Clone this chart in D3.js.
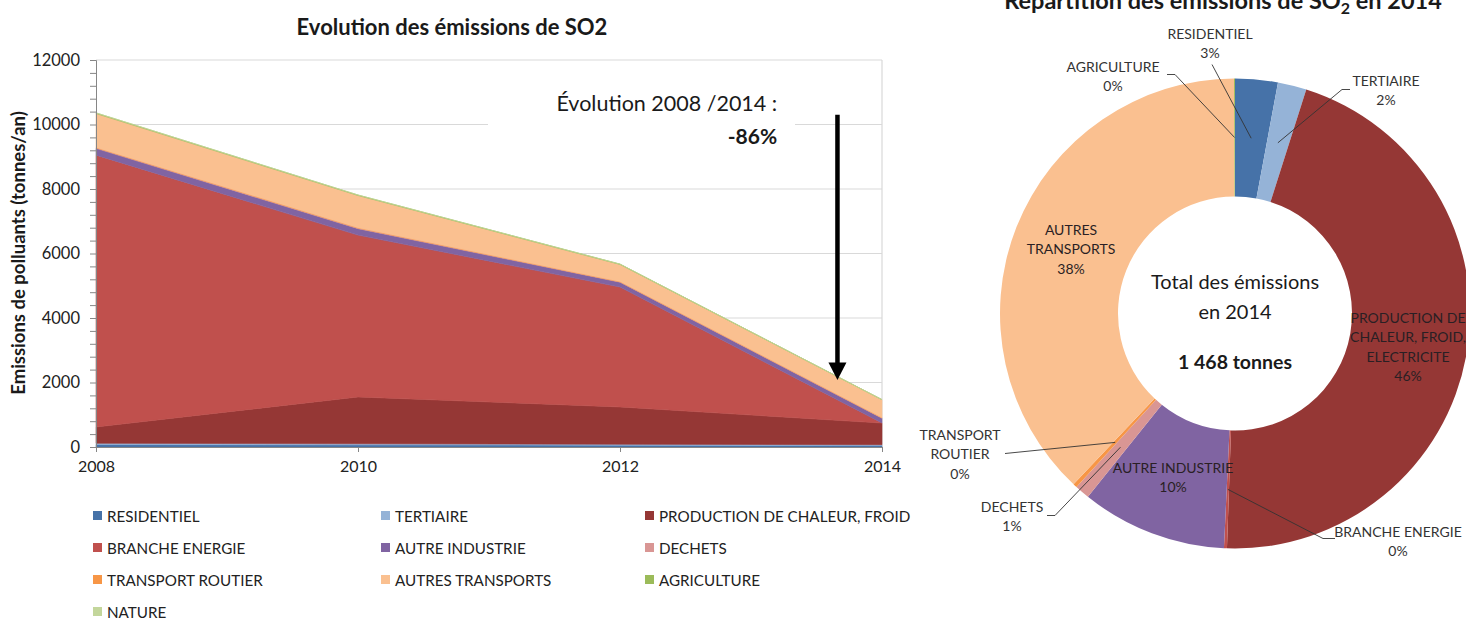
<!DOCTYPE html>
<html>
<head>
<meta charset="utf-8">
<script src="https://cdn.jsdelivr.net/npm/d3@7"></script>
<style>
body{
  margin:0;
  padding:0;
  overflow:hidden;
  background:#fff;
  font-family: Lato, 'Noto Sans', sans-serif;
}
</style>
</head>
<body>
<div id="chart"></div>
<script>
//========== DATA =============
const years = [2008, 2010, 2012, 2014];
const sectors = ["RESIDENTIEL", "TERTIAIRE", "PRODUCTION DE CHALEUR, FROID, ELECTRICITE",
  "BRANCHE ENERGIE", "AUTRE INDUSTRIE", "DECHETS", "TRANSPORT ROUTIER",
  "AUTRES TRANSPORTS", "AGRICULTURE", "NATURE"];

// tonnes/an, one array per sector, same order as years
const residentiel      = [75, 65, 55, 43];
const tertiaire        = [40, 35, 30, 29];
const production       = [505, 1450, 1155, 670];
const brancheEnergie   = [8430, 5020, 3720, 3];
const autreIndustrie   = [210, 200, 150, 147];
const dechets          = [20, 20, 15, 15];
const transportRoutier = [10, 8, 6, 4];
const autresTransports = [1050, 1000, 530, 556];
const agriculture      = [20, 15, 10, 1];
const nature           = [0, 0, 0, 0];

const series = [residentiel, tertiaire, production, brancheEnergie, autreIndustrie,
  dechets, transportRoutier, autresTransports, agriculture, nature];

const colors = ["#4672A8", "#95B3D7", "#953735", "#C0504D", "#8064A2",
  "#D99694", "#F79646", "#FAC090", "#9BBB59", "#C3D69B"];

const yTicks = [0, 2000, 4000, 6000, 8000, 10000, 12000];

//========== SVG =============
const W = 1466, H = 619;
const svg = d3.select("#chart").append("svg")
  .attr("width", W).attr("height", H)
  .style("font-family", "Lato, 'Noto Sans', sans-serif");
svg.append("rect").attr("width", W).attr("height", H).attr("fill", "#fff");

//========== AREA CHART =============
const x = d3.scaleLinear().domain([2008, 2014]).range([96, 882]);
const y = d3.scaleLinear().domain([0, 12000]).range([447, 60]);

const rows = years.map((yr, i) => {
  const r = {year: yr};
  sectors.forEach((s, k) => r[s] = series[k][i]);
  return r;
});
const stacked = d3.stack().keys(sectors)(rows);

svg.append("text")
  .attr("x", 452).attr("y", 35)
  .attr("text-anchor", "middle")
  .attr("font-weight", "bold").attr("font-size", 22).attr("fill", "#1a1a1a")
  .text("Evolution des émissions de SO2");

// gridlines
svg.append("g").selectAll("line")
  .data(yTicks.filter(d => d > 0))
  .join("line")
  .attr("x1", x(2008)).attr("x2", x(2014))
  .attr("y1", d => y(d)).attr("y2", d => y(d))
  .attr("stroke", "#D9D9D9").attr("stroke-width", 1.2);
svg.append("line")
  .attr("x1", x(2014)).attr("x2", x(2014))
  .attr("y1", y(12000)).attr("y2", y(0))
  .attr("stroke", "#D9D9D9").attr("stroke-width", 1.2);

const area = d3.area()
  .x(d => x(d.data.year))
  .y0(d => y(d[0]))
  .y1(d => y(d[1]));

svg.append("g").selectAll("path")
  .data(stacked)
  .join("path")
  .attr("d", area)
  .attr("fill", (d, i) => colors[i])
  .attr("stroke", (d, i) => colors[i])
  .attr("stroke-width", 0.6);

// axes
const yMinor = svg.append("g").attr("transform", `translate(${x(2008)},0)`)
  .call(d3.axisLeft(y).tickValues(d3.range(0, 12001, 400)).tickSize(6).tickFormat(""));
const yMajor = svg.append("g").attr("transform", `translate(${x(2008)},0)`)
  .call(d3.axisLeft(y).tickValues(yTicks).tickSize(0).tickPadding(16).tickFormat(d3.format("d")));
yMajor.select(".domain").remove();
yMajor.selectAll("text").attr("font-size", 16.5).attr("fill", "#222").attr("font-family", "Lato, sans-serif");

const xAxis = svg.append("g").attr("transform", `translate(0,${y(0)})`)
  .call(d3.axisBottom(x).tickValues(years).tickSize(5).tickPadding(9).tickFormat(d3.format("d")));
xAxis.selectAll("text").attr("font-size", 16).attr("fill", "#222").attr("font-family", "Lato, sans-serif");
[yMinor, xAxis].forEach(g => {
  g.select(".domain").attr("stroke", "#868686");
  g.selectAll(".tick line").attr("stroke", "#868686");
});

svg.append("text")
  .attr("transform", "translate(25,253) rotate(-90)")
  .attr("text-anchor", "middle")
  .attr("font-weight", "bold").attr("font-size", 18.5).attr("fill", "#1a1a1a")
  .text("Emissions de polluants (tonnes/an)");

// annotation
const total = i => d3.sum(series, s => s[i]);
const evo = (total(years.length - 1) - total(0)) / total(0);
svg.append("rect")
  .attr("x", 488).attr("y", 88).attr("width", 307).attr("height", 70)
  .attr("fill", "#fff");
svg.append("text")
  .attr("x", x(2013.2)).attr("y", y(10640) + 7.5)
  .attr("text-anchor", "end").attr("font-size", 21.5).attr("fill", "#1a1a1a")
  .text(`Évolution ${years[0]} /${years[years.length - 1]} :`);
svg.append("text")
  .attr("x", x(2013.2)).attr("y", y(9620) + 7.5)
  .attr("text-anchor", "end").attr("font-size", 21).attr("font-weight", "bold").attr("fill", "#1a1a1a")
  .text(d3.format(".0%")(evo).replace("−", "-"));

const ax = x(2013.66);
svg.append("line")
  .attr("x1", ax).attr("x2", ax)
  .attr("y1", y(10300)).attr("y2", y(2600))
  .attr("stroke", "#000").attr("stroke-width", 4.5);
svg.append("path")
  .attr("d", `M${ax - 9},${y(2620)} L${ax + 9},${y(2620)} L${ax},${y(2080)} Z`)
  .attr("fill", "#000");

// legend
const legCols = [93, 381, 645], legRows = [516, 548, 580, 612];
const leg = svg.append("g").selectAll("g")
  .data(sectors)
  .join("g")
  .attr("transform", (d, i) => `translate(${legCols[i % 3]},${legRows[Math.floor(i / 3)]})`);
leg.append("rect")
  .attr("x", 0).attr("y", -5).attr("width", 9).attr("height", 9)
  .attr("fill", (d, i) => colors[i]);
leg.append("text")
  .attr("x", 14).attr("y", 5.5)
  .attr("font-size", 15.2).attr("fill", "#222")
  .text(d => d)
  .each(function () {   // excel cuts the long entry at the chart edge
    const t = d3.select(this);
    const maxW = 918 - 645 - 14;
    let words = t.text().split(" ");
    while (this.getComputedTextLength() > maxW && words.length > 1) {
      words.pop();
      t.text(words.join(" ").replace(/,$/, ""));
    }
  });

//========== DONUT =============
const cx = 1235, cy = 313.5, rOut = 235, rIn = 117;
const values2014 = series.map(s => s[s.length - 1]);
const total2014 = d3.sum(values2014);
const pie = d3.pie().sort(null).value(d => d.v);
const arcs = pie(sectors.map((s, i) => ({name: s, v: values2014[i], c: colors[i]})));
const arc = d3.arc().innerRadius(rIn).outerRadius(rOut);

svg.append("text")
  .attr("x", 1223).attr("y", 9)
  .attr("text-anchor", "middle")
  .attr("font-weight", "bold").attr("font-size", 23.5).attr("fill", "#1a1a1a")
  .call(t => {
    t.append("tspan").text("Répartition des émissions de SO");
    t.append("tspan").attr("font-size", 16).attr("dy", 5).text("2");
    t.append("tspan").attr("dy", -5).text(" en 2014");
  });

const donut = svg.append("g").attr("transform", `translate(${cx},${cy})`);
donut.selectAll("path")
  .data(arcs)
  .join("path")
  .attr("d", arc)
  .attr("fill", d => d.data.c);

// center text
const fmtT = n => d3.format(",")(n).replace(/,/g, " ");
donut.append("text").attr("y", -25).attr("text-anchor", "middle").attr("font-size", 20).attr("fill", "#1a1a1a").text("Total des émissions");
donut.append("text").attr("y", 5.5).attr("text-anchor", "middle").attr("font-size", 20).attr("fill", "#1a1a1a").text(`en ${years[years.length - 1]}`);
donut.append("text").attr("y", 55.5).attr("text-anchor", "middle").attr("font-size", 19.5).attr("font-weight", "bold").attr("fill", "#1a1a1a").text(`${fmtT(total2014)} tonnes`);

// labels: position of first line centre (relative to donut centre) and leader start
const pieLabels = {
  "RESIDENTIEL": {x: -25, y: -280, lines: ["RESIDENTIEL"], leader: [[-23, -249]]},
  "TERTIAIRE": {x: 151, y: -233, lines: ["TERTIAIRE"], leader: [[115, -224], [107, -224]]},
  "PRODUCTION DE CHALEUR, FROID, ELECTRICITE": {x: 173, y: 4, inside: true, lines: ["PRODUCTION DE", "CHALEUR, FROID,", "ELECTRICITE"]},
  "BRANCHE ENERGIE": {x: 163, y: 218, lines: ["BRANCHE ENERGIE"], leader: [[100, 225], [88, 225]]},
  "AUTRE INDUSTRIE": {x: -62, y: 154, inside: true, lines: ["AUTRE INDUSTRIE"]},
  "DECHETS": {x: -223, y: 193, lines: ["DECHETS"], leader: [[-188, 202], [-180, 202]]},
  "TRANSPORT ROUTIER": {x: -275, y: 121, lines: ["TRANSPORT", "ROUTIER"], leader: [[-230, 140]]},
  "AUTRES TRANSPORTS": {x: -164, y: -84, inside: true, lines: ["AUTRES", "TRANSPORTS"]},
  "AGRICULTURE": {x: -122, y: -247, lines: ["AGRICULTURE"], leader: [[-68, -239], [-60, -239]]}
};

const labelled = arcs.filter(d => pieLabels[d.data.name]);
donut.append("g").selectAll("path")
  .data(labelled.filter(d => pieLabels[d.data.name].leader))
  .join("path")
  .attr("d", d => d3.line()(pieLabels[d.data.name].leader.concat([arc.centroid(d)])))
  .attr("fill", "none").attr("stroke", "#333").attr("stroke-width", 0.9);

const pct = d3.format(".0%");
donut.append("g").selectAll("text")
  .data(labelled)
  .join("text")
  .attr("text-anchor", "middle")
  .attr("font-size", 14)
  .attr("fill", d => pieLabels[d.data.name].inside ? "#2a1f24" : "#333")
  .each(function (d) {
    const L = pieLabels[d.data.name];
    const lines = L.lines.concat([pct(d.data.v / total2014)]);
    d3.select(this).selectAll("tspan")
      .data(lines)
      .join("tspan")
      .attr("x", L.x)
      .attr("y", (t, j) => L.y + j * 19.5 + 5)
      .text(t => t);
  });
</script>
</body>
</html>
